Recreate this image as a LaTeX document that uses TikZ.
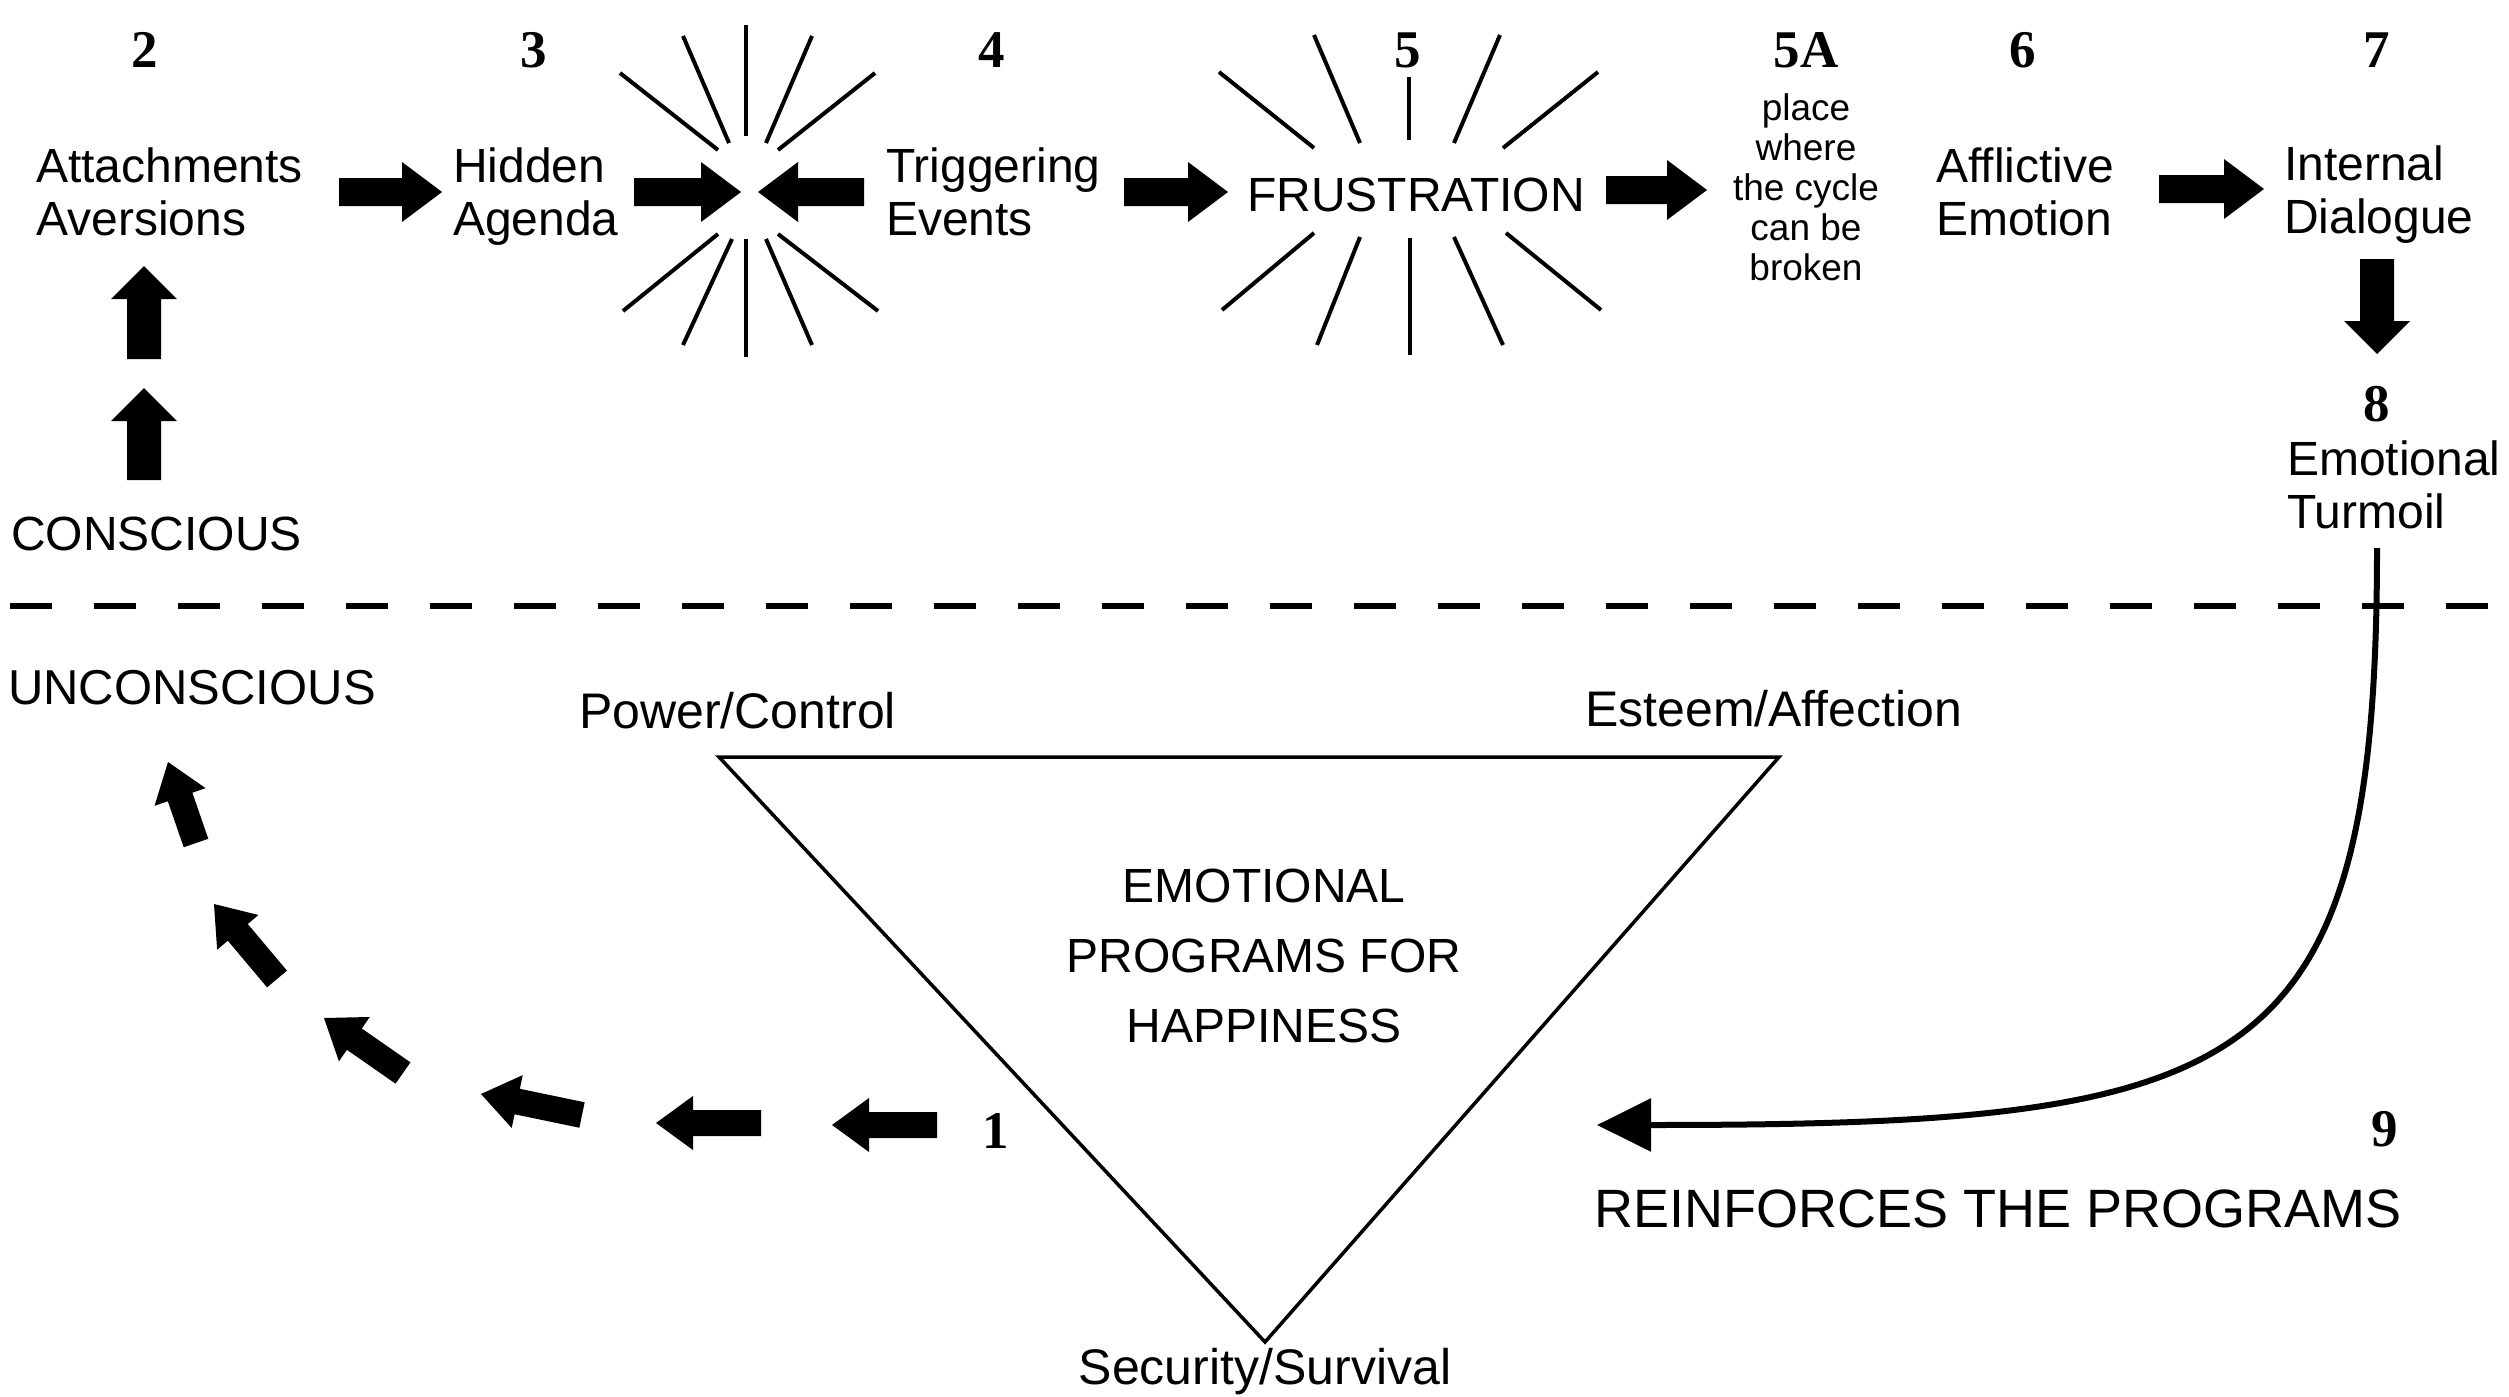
\documentclass[tikz,border=0pt]{standalone}
\usepackage{fontspec}
\setmainfont{Liberation Sans}
\newfontfamily\numfont{Liberation Serif}
\usetikzlibrary{calc,arrows.meta}

% block arrow from #1 (tail) to #2 (tip); #3 half shaft, #4 half head, #5 head length
\newcommand{\blockarrow}[5]{%
  \coordinate (ba-h) at ($(#2)!#5!(#1)$);
  \fill ($(#1)!#3!90:(#2)$) -- ($(ba-h)!#3!90:(#2)$) -- ($(ba-h)!#4!90:(#2)$) -- (#2)
     -- ($(ba-h)!#4!-90:(#2)$) -- ($(ba-h)!#3!-90:(#2)$) -- ($(#1)!#3!-90:(#2)$) -- cycle;}
\newcommand{\rowarrow}[2]{\blockarrow{#1}{#2}{14pt}{30pt}{40pt}}
\newcommand{\colarrow}[2]{\blockarrow{#1}{#2}{17pt}{33pt}{33pt}}
\newcommand{\loparrow}[2]{\blockarrow{#1}{#2}{13pt}{27pt}{37pt}}

\begin{document}
\begin{tikzpicture}[x=1pt,y=-1pt,
  lbl/.style={inner sep=0pt, anchor=north west, align=left, font=\fontsize{48}{53}\selectfont},
  oneline/.style={inner sep=0pt, anchor=base west, font=\fontsize{48}{53}\selectfont},
  corner/.style={inner sep=0pt, anchor=base west, font=\fontsize{50}{56}\selectfont},
  num/.style={inner sep=0pt, anchor=base, font=\numfont\bfseries\fontsize{53}{53}\selectfont},
  ray/.style={line width=4pt},
  divider/.style={line width=6pt, dash pattern=on 42pt off 42pt, dash phase=74pt},
  tri/.style={line width=3.5pt, line join=miter},
  feedback/.style={line width=6pt, -{Triangle[length=54pt,width=52pt]}}]

\useasboundingbox[fill=white] (0,0) rectangle (2509,1397);

% ---- step numbers ----
\node[num] (n2)  at (145,67)  {2};
\node[num] (n3)  at (534,67)  {3};
\node[num] (n4)  at (992,67)  {4};
\node[num] (n5)  at (1408,67) {5};
\node[num] (n5a) at (1806,67) {5A};
\node[num] (n6)  at (2023,67) {6};
\node[num] (n7)  at (2377,67) {7};
\node[num] (n8)  at (2377,421) {8};
\node[num] (n1)  at (996,1148) {1};
\node[num] (n9)  at (2385,1146) {9};

% ---- top row labels ----
\node[lbl] (attach)   at (36,142)   {\rule{0pt}{40pt}Attachments\\Aversions};
\node[lbl] (hidden)   at (453,142)  {\rule{0pt}{40pt}Hidden\\Agenda};
\node[lbl] (trigger)  at (886,142)  {\rule{0pt}{40pt}Triggering\\Events};
\node[oneline, anchor=base] (frus) at (1416,211) {FRUSTRATION};
\node[inner sep=0pt, anchor=north, align=center, font=\fontsize{37}{40}\selectfont]
     (breakpt) at (1806,90) {\rule{0pt}{30pt}place\\where\\the cycle\\can be\\broken};
\node[lbl] (afflict)  at (1936,142) {\rule{0pt}{40pt}Afflictive\\Emotion};
\node[lbl] (internal) at (2284,140) {\rule{0pt}{40pt}Internal\\Dialogue};
\node[lbl] (turmoil)  at (2287,435) {\rule{0pt}{40pt}Emotional\\Turmoil};

\node[oneline] (conscious)   at (11,550) {CONSCIOUS};
\node[oneline, font=\fontsize{49}{56}\selectfont] (unconscious) at (8,704) {UNCONSCIOUS};

% ---- triangle of programs ----
\node[corner] (power)  at (579,728)  {Power/Control};
\node[corner] (esteem) at (1585,726) {Esteem/Affection};
\node[corner, anchor=base] (security) at (1265,1384) {Security/Survival};
\node[inner sep=0pt, anchor=north, align=center, font=\fontsize{48}{70}\selectfont]
     (programs) at (1264,862) {\rule{0pt}{40pt}EMOTIONAL\\PROGRAMS FOR\\HAPPINESS};
\node[inner sep=0pt, anchor=base west, font=\fontsize{54}{60}\selectfont]
     (reinforce) at (1594,1227) {REINFORCES THE PROGRAMS};

\coordinate (t1) at (719,757);
\coordinate (t2) at (1779,757);
\coordinate (t3) at (1265,1342);
\draw[tri] (t1) -- (t2) -- (t3) -- cycle;

% ---- conscious / unconscious divider ----
\coordinate (dl) at (0,606);
\coordinate (dr) at (2509,606);
\draw[divider] (dl) -- (dr);

% ---- starbursts ----
\draw[ray] (746,25) -- (746,136);
\draw[ray] (683,36) -- (729,143);
\draw[ray] (812,36) -- (766,143);
\draw[ray] (620,73) -- (718,150);
\draw[ray] (875,73) -- (778,150);
\draw[ray] (718,234) -- (623,311);
\draw[ray] (732,239) -- (683,345);
\draw[ray] (746,239) -- (746,357);
\draw[ray] (766,239) -- (812,345);
\draw[ray] (778,234) -- (878,311);

\draw[ray] (1409,77) -- (1409,140);
\draw[ray] (1314,35) -- (1360,143);
\draw[ray] (1500,35) -- (1454,143);
\draw[ray] (1219,72) -- (1314,148);
\draw[ray] (1598,72) -- (1503,148);
\draw[ray] (1314,233) -- (1222,310);
\draw[ray] (1360,237) -- (1317,345);
\draw[ray] (1410,238) -- (1410,355);
\draw[ray] (1454,237) -- (1503,345);
\draw[ray] (1506,233) -- (1601,310);

% ---- top row arrows ----
\coordinate (a1s) at (339,192);  \coordinate (a1e) at (442,192);
\coordinate (a2s) at (634,192);  \coordinate (a2e) at (741,192);
\coordinate (a3s) at (864,192);  \coordinate (a3e) at (758,192);
\coordinate (a4s) at (1124,192); \coordinate (a4e) at (1228,192);
\coordinate (a5s) at (1606,190); \coordinate (a5e) at (1707,190);
\coordinate (a6s) at (2159,189); \coordinate (a6e) at (2264,189);
\rowarrow{a1s}{a1e}
\rowarrow{a2s}{a2e}
\rowarrow{a3s}{a3e}
\rowarrow{a4s}{a4e}
\rowarrow{a5s}{a5e}
\rowarrow{a6s}{a6e}

% ---- vertical arrows ----
\coordinate (u1s) at (144,359); \coordinate (u1e) at (144,266);
\coordinate (u2s) at (144,480); \coordinate (u2e) at (144,388);
\coordinate (d1s) at (2377,259); \coordinate (d1e) at (2377,354);
\colarrow{u1s}{u1e}
\colarrow{u2s}{u2e}
\colarrow{d1s}{d1e}

% ---- rising chain from the programs ----
\coordinate (c1s) at (937,1125); \coordinate (c1e) at (832,1125);
\coordinate (c2s) at (761,1123); \coordinate (c2e) at (656,1123);
\coordinate (c3s) at (582,1115); \coordinate (c3e) at (481,1094);
\coordinate (c4s) at (403,1073); \coordinate (c4e) at (324,1018);
\coordinate (c5s) at (277,979);  \coordinate (c5e) at (214,904);
\coordinate (c6s) at (196,843);  \coordinate (c6e) at (168,762);
\loparrow{c1s}{c1e}
\loparrow{c2s}{c2e}
\loparrow{c3s}{c3e}
\loparrow{c4s}{c4e}
\loparrow{c5s}{c5e}
\loparrow{c6s}{c6e}

% ---- feedback curve ----
\coordinate (fbs) at (2377,548);
\coordinate (fbe) at (1597,1125);
\draw[feedback] (fbs) .. controls (2377,1080) and (2250,1125) .. (fbe);

\end{tikzpicture}
\end{document}
